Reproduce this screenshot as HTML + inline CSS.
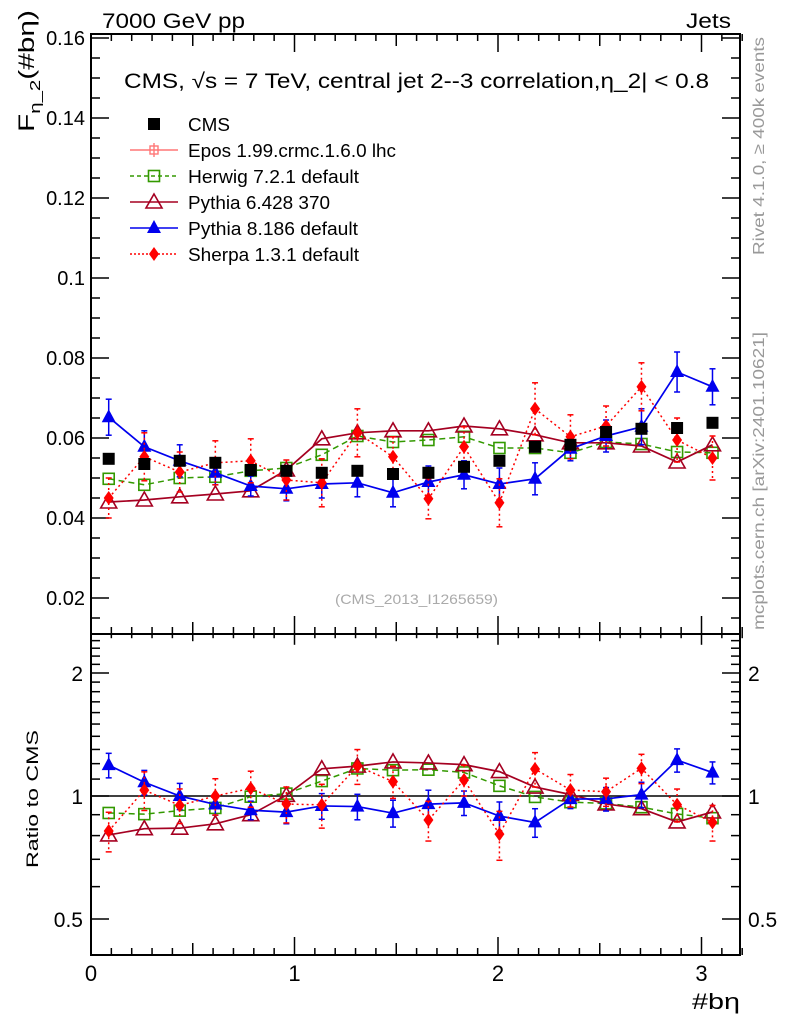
<!DOCTYPE html>
<html><head><meta charset="utf-8"><style>
html,body{margin:0;padding:0;background:#fff;}
svg{display:block;font-family:"Liberation Sans",sans-serif;}
</style></head><body>
<svg id="chart" width="786" height="1024" viewBox="0 0 786 1024" xmlns="http://www.w3.org/2000/svg">
<text x="102" y="28" font-size="21" textLength="143" lengthAdjust="spacingAndGlyphs">7000 GeV pp</text>
<text x="686" y="28" font-size="21" textLength="45" lengthAdjust="spacingAndGlyphs">Jets</text>
<text x="124" y="88" font-size="21" textLength="585" lengthAdjust="spacingAndGlyphs">CMS, √s = 7 TeV, central jet 2--3 correlation,η_2| &lt; 0.8</text>
<text transform="translate(764,255) rotate(-90)" font-size="16" fill="#999" textLength="218" lengthAdjust="spacingAndGlyphs">Rivet 4.1.0, ≥ 400k events</text>
<text transform="translate(764,630) rotate(-90)" font-size="16" fill="#999" textLength="298" lengthAdjust="spacingAndGlyphs">mcplots.cern.ch [arXiv:2401.10621]</text>
<text x="335" y="604" font-size="14" fill="#aaa" textLength="163" lengthAdjust="spacingAndGlyphs">(CMS_2013_I1265659)</text>
<text transform="translate(34,132) rotate(-90)" font-size="22" textLength="122" lengthAdjust="spacingAndGlyphs">F<tspan font-size="15" dy="6">η_2</tspan><tspan dy="-6">(#bη)</tspan></text>
<text transform="translate(38,868) rotate(-90)" font-size="17" textLength="138" lengthAdjust="spacingAndGlyphs">Ratio to CMS</text>
<text x="740" y="1009" font-size="22" text-anchor="end" textLength="48" lengthAdjust="spacingAndGlyphs">#bη</text>
<g id="main"></g>
<g id="ratio"></g>
<g id="legend"></g>
</svg>
<script>
const bins = [0.087,0.262,0.436,0.611,0.785,0.960,1.134,1.309,1.484,1.658,1.833,2.007,2.182,2.356,2.531,2.705,2.880,3.054];
const cmsVals = [0.0548,0.0535,0.0543,0.0538,0.0520,0.0518,0.0513,0.0518,0.0510,0.0513,0.0528,0.0543,0.0578,0.0583,0.0615,0.0623,0.0625,0.0638];
const herwigVals = [0.0498,0.0483,0.0500,0.0503,0.0518,0.0525,0.0558,0.0605,0.0590,0.0595,0.0603,0.0575,0.0575,0.0563,0.0590,0.0585,0.0565,0.0563];
const py6Vals = [0.0440,0.0445,0.0453,0.0460,0.0468,0.0520,0.0598,0.0613,0.0618,0.0618,0.0630,0.0623,0.0608,0.0588,0.0588,0.0580,0.0540,0.0583];
const py8Vals = [0.0652,0.0578,0.0543,0.0513,0.0480,0.0473,0.0485,0.0488,0.0463,0.0490,0.0508,0.0485,0.0498,0.0573,0.0605,0.0628,0.0765,0.0728];
const py8Errs = [0.0045,0.0040,0.0040,0.0030,0.0025,0.0030,0.0035,0.0035,0.0035,0.0040,0.0035,0.0040,0.0040,0.0030,0.0040,0.0045,0.0050,0.0045];
const sherpaVals = [0.0450,0.0553,0.0515,0.0538,0.0543,0.0495,0.0488,0.0613,0.0553,0.0448,0.0578,0.0438,0.0673,0.0603,0.0630,0.0728,0.0595,0.0550];
const sherpaErrs = [0.0050,0.0060,0.0050,0.0055,0.0055,0.0050,0.0060,0.0060,0.0050,0.0050,0.0050,0.0060,0.0065,0.0055,0.0050,0.0060,0.0055,0.0055];
const yTicks = [0.02,0.04,0.06,0.08,0.1,0.12,0.14,0.16];
const yTickLabels = ["0.02","0.04","0.06","0.08","0.1","0.12","0.14","0.16"];
const xTicks = [0,1,2,3];
const xTickLabels = ["0","1","2","3"];
const rTicks = [0.5,1,2];
const rTickLabels = ["0.5","1","2"];

const NS="http://www.w3.org/2000/svg";
const L=91,R=740,T=34,MB=634,RB=955;
const X=v=>L+v*203.5;
const Y=v=>598-(v-0.02)*4000;
const RY=r=>796-Math.log2(r)*123;
function el(tag,attrs,parent){const e=document.createElementNS(NS,tag);for(const k in attrs)e.setAttribute(k,attrs[k]);parent.appendChild(e);return e;}
const main=document.getElementById('main'), ratio=document.getElementById('ratio'), leg=document.getElementById('legend');





let f=el('rect',{x:L,y:T,width:R-L,height:MB-T,fill:'none',stroke:'#000','stroke-width':2},main);


f=el('rect',{x:L,y:MB,width:R-L,height:RB-MB,fill:'none',stroke:'#000','stroke-width':2},ratio);



for(let v=0.015;v<=0.1601;v+=0.005){const y=Y(v);if(y<T||y>MB)continue;const maj=Math.abs(v*50-Math.round(v*50))<1e-6;const len=maj?18:9;
 el('line',{x1:L,x2:L+len,y1:y,y2:y,stroke:'#000','stroke-width':1.5},main);
 el('line',{x1:R,x2:R-len,y1:y,y2:y,stroke:'#000','stroke-width':1.5},main);}
yTicks.forEach((v,i)=>{const t=el('text',{x:L-6,y:Y(v)+7,'font-size':20,'text-anchor':'end'},main);t.textContent=yTickLabels[i];
 
 });
for(let i=0;i<=32;i++){const v=i/10;const x=X(v);const maj=i%10==0;const len=maj?18:(i%5==0?12:7);
 el('line',{x1:x,x2:x,y1:MB,y2:MB-len,stroke:'#000','stroke-width':1.5},main);
 el('line',{x1:x,x2:x,y1:T,y2:T+len,stroke:'#000','stroke-width':1.5},main);
 el('line',{x1:x,x2:x,y1:RB,y2:RB-len,stroke:'#000','stroke-width':1.5},ratio);
 el('line',{x1:x,x2:x,y1:MB,y2:MB+len*0.6,stroke:'#000','stroke-width':1.5},ratio);}
xTicks.forEach((v,i)=>{const t=el('text',{x:X(v),y:981,'font-size':22,'text-anchor':'middle'},ratio);t.textContent=xTickLabels[i];
 
 });
for(let r=0.4;r<=2.5;r+=0.1){const y=RY(r);if(y<MB||y>RB)continue;const maj=[0.5,1,2].some(q=>Math.abs(q-r)<1e-6);const len=maj?18:9;
 el('line',{x1:L,x2:L+len,y1:y,y2:y,stroke:'#000','stroke-width':1.5},ratio);
 el('line',{x1:R,x2:R-len,y1:y,y2:y,stroke:'#000','stroke-width':1.5},ratio);}
rTicks.forEach((v,i)=>{let t=el('text',{x:L-8,y:RY(v)+8,'font-size':21,'text-anchor':'end'},ratio);t.textContent=rTickLabels[i];
 
 
 t=el('text',{x:R+8,y:RY(v)+8,'font-size':21},ratio);t.textContent=rTickLabels[i];
 
 });
let ref=el('line',{x1:L,x2:R,y1:RY(1),y2:RY(1),stroke:'#000','stroke-width':1.5},ratio);



function marker(g,type,x,y,color){
 if(type=='sq') return el('rect',{x:x-6,y:y-6,width:12,height:12,fill:'#000'},g);
 if(type=='osq') return el('rect',{x:x-5.5,y:y-5.5,width:11,height:11,fill:'none',stroke:color,'stroke-width':1.6},g);
 if(type=='otri') return el('path',{d:`M${x},${y-8}L${x+8},${y+6}L${x-8},${y+6}Z`,fill:'none',stroke:color,'stroke-width':1.6},g);
 if(type=='tri') return el('path',{d:`M${x},${y-8}L${x+7},${y+5}L${x-7},${y+5}Z`,fill:color},g);
 if(type=='dia') return el('path',{d:`M${x},${y-7}L${x+5},${y}L${x},${y+7}L${x-5},${y}Z`,fill:color},g);
}
const series=[
 {name:'herwig',vals:herwigVals,errs:null,color:'#339900',dash:'6,4',m:'osq',w:1.5},
 {name:'pythia6',vals:py6Vals,errs:null,color:'#a50021',dash:'',m:'otri',w:1.7},
 {name:'pythia8',vals:py8Vals,errs:py8Errs,color:'#0000ee',dash:'',m:'tri',w:1.7},
 {name:'sherpa',vals:sherpaVals,errs:sherpaErrs,color:'#ff0000',dash:'2,3',m:'dia',w:1.5},
];
series.forEach(s=>{
 [[main,1],[ratio,0]].forEach(([par,isMain])=>{
  const g=el('g',{},par);
  
  
  const yv=(i,v)=>isMain?Y(v):RY(v/cmsVals[i]);
  const pts=s.vals.map((v,i)=>X(bins[i])+','+yv(i,v)).join(' ');
  el('polyline',{points:pts,fill:'none',stroke:s.color,'stroke-width':s.w,'stroke-dasharray':s.dash},g);
  s.vals.forEach((v,i)=>{const x=X(bins[i]);
   if(s.errs){const y1=yv(i,v+s.errs[i]),y2=yv(i,v-s.errs[i]);
    el('line',{x1:x,x2:x,y1:y1,y2:y2,stroke:s.color,'stroke-width':1.5,'stroke-dasharray':s.dash},g);
    el('line',{x1:x-3,x2:x+3,y1:y1,y2:y1,stroke:s.color,'stroke-width':1.5},g);
    el('line',{x1:x-3,x2:x+3,y1:y2,y2:y2,stroke:s.color,'stroke-width':1.5},g);}
   const m=marker(g,s.m,x,yv(i,v),s.color);
   
   
  });
 });
});
const cg=el('g',{},main);


cmsVals.forEach((v,i)=>{const m=marker(cg,'sq',X(bins[i]),Y(v));
 
 });

const entries=[['CMS','#000','','sq',42],['Epos 1.99.crmc.1.6.0 lhc','#ff7777','','epos',208],['Herwig 7.2.1 default','#339900','4,3','osq',171],['Pythia 6.428 370','#a50021','','otri',142],['Pythia 8.186 default','#0000ee','','tri',170],['Sherpa 1.3.1 default','#ff0000','2,2','dia',171]];
entries.forEach((e,i)=>{const y=124+i*26;const g=el('g',{},leg);
 
 
 if(e[0]!='CMS') el('line',{x1:130,x2:178,y1:y,y2:y,stroke:e[1],'stroke-width':1.6,'stroke-dasharray':e[2]},g);
 if(e[3]=='epos'){el('rect',{x:150,y:y-4,width:8,height:8,fill:'none',stroke:e[1],'stroke-width':1.4},g);el('line',{x1:154,x2:154,y1:y-7,y2:y+7,stroke:e[1],'stroke-width':1.4},g);}
 else marker(g,e[3],154,y,e[1]);
 const t=el('text',{x:188,y:y+7,'font-size':18,textLength:e[4],lengthAdjust:'spacingAndGlyphs'},g);t.textContent=e[0];
});
</script>
</body></html>
